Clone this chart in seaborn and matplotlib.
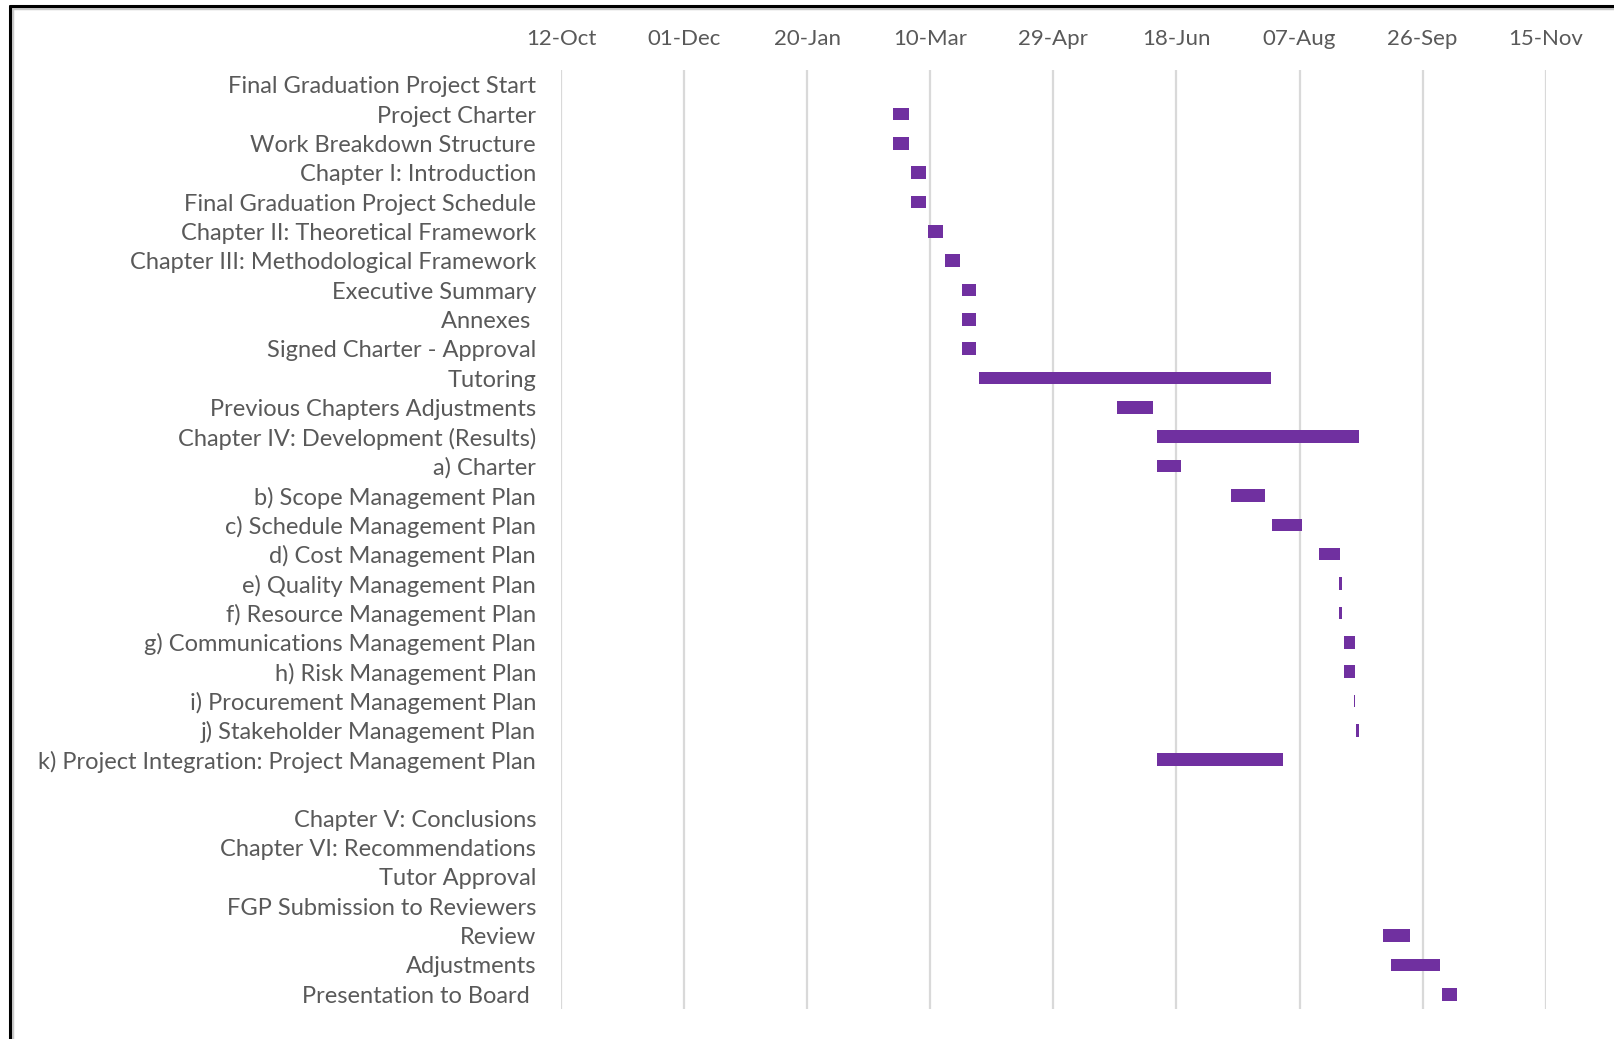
import matplotlib
matplotlib.use("Agg")
import matplotlib.pyplot as plt
import matplotlib.dates as mdates
from matplotlib.lines import Line2D
import seaborn as sns
import pandas as pd
import numpy as np

# --- data ------------------------------------------------------------------
tasks = [
    "Final Graduation Project Start",
    "Project Charter",
    "Work Breakdown Structure",
    "Chapter I: Introduction",
    "Final Graduation Project Schedule",
    "Chapter II: Theoretical Framework",
    "Chapter III: Methodological Framework",
    "Executive Summary",
    "Annexes ",
    "Signed Charter - Approval",
    "Tutoring",
    "Previous Chapters Adjustments",
    "Chapter IV: Development (Results)",
    "a) Charter",
    "b) Scope Management Plan",
    "c) Schedule Management Plan",
    "d) Cost Management Plan",
    "e) Quality Management Plan",
    "f) Resource Management Plan",
    "g) Communications Management Plan",
    "h) Risk Management Plan",
    "i) Procurement Management Plan",
    "j) Stakeholder Management Plan",
    "k) Project Integration: Project Management Plan",
    " ",
    "Chapter V: Conclusions",
    "Chapter VI: Recommendations",
    "Tutor Approval",
    "FGP Submission to Reviewers",
    "Review",
    "Adjustments",
    "Presentation to Board ",
]

start_dates = [
    None, "2024-02-24", "2024-02-24", "2024-03-02", "2024-03-02",
    "2024-03-09", "2024-03-16", "2024-03-23", "2024-03-23", "2024-03-23",
    "2024-03-30", "2024-05-25", "2024-06-10", "2024-06-10", "2024-07-10",
    "2024-07-27", "2024-08-15", "2024-08-23", "2024-08-23", "2024-08-25",
    "2024-08-25", "2024-08-29", "2024-08-30", "2024-06-10", None,
    None, None, None, None, "2024-09-10",
    "2024-09-13", "2024-10-04",
]

durations = [
    0, 6.2, 6.2, 6.2, 6.2,
    6.0, 6.0, 5.7, 5.7, 5.7,
    118.3, 14.5, 82, 10, 14,
    12.2, 8.3, 1.2, 1.2, 4.6,
    4.6, 0.7, 1.1, 51.4, 0,
    0, 0, 0, 0, 11,
    20, 6,
]

tick_dates = ["2023-10-12", "2023-12-01", "2024-01-20", "2024-03-10", "2024-04-29",
              "2024-06-18", "2024-08-07", "2024-09-26", "2024-11-15"]

# --- prep ------------------------------------------------------------------
axis_start = mdates.date2num(pd.Timestamp(tick_dates[0]))
axis_end = mdates.date2num(pd.Timestamp(tick_dates[-1]))
left = np.array([mdates.date2num(pd.Timestamp(d)) if d else axis_start for d in start_dates])

df = pd.DataFrame({"task": tasks, "duration": durations})

sns.set_theme(style="white")
plt.rcParams["font.family"] = ["Lato", "DejaVu Sans"]

fig = plt.figure(figsize=(16.14, 10.39), dpi=100)
ax = fig.add_axes([561 / 1614, 30 / 1039, (1545.7 - 561) / 1614, (1009 - 70) / 1039])

sns.barplot(
    data=df, x="duration", y="task", order=tasks, orient="y",
    color="#7030A0", saturation=1, width=0.43, errorbar=None,
    left=left, linewidth=0, ax=ax,
)

ax.set_xlim(axis_start, axis_end)
ax.set_ylim(len(tasks) - 0.5, -0.5)
ax.xaxis.tick_top()
ax.set_xticks([mdates.date2num(pd.Timestamp(d)) for d in tick_dates])
ax.xaxis.set_major_formatter(mdates.DateFormatter("%d-%b"))
ax.grid(axis="x", color="#d9d9d9", linewidth=1.6)
ax.set_axisbelow(True)
for s in ax.spines.values():
    s.set_visible(False)
ax.set_xlabel("")
ax.set_ylabel("")
ax.tick_params(axis="x", length=0, pad=15, labelsize=16, labelcolor="#595959")
ax.tick_params(axis="y", length=0, pad=18, labelsize=17, labelcolor="#595959")

# Excel-like frame on top and left edge of the screenshot
fig.add_artist(Line2D([12 / 1614, 1], [1 - 8 / 1039, 1 - 8 / 1039], color="#c8c8c8", linewidth=2.5))
fig.add_artist(Line2D([12 / 1614, 12 / 1614], [0, 1 - 8 / 1039], color="#c8c8c8", linewidth=2.5))
fig.add_artist(Line2D([10 / 1614, 1], [1 - 6 / 1039, 1 - 6 / 1039], color="black", linewidth=2.2))
fig.add_artist(Line2D([10 / 1614, 10 / 1614], [0, 1 - 6 / 1039], color="black", linewidth=2.2))

fig.savefig("out.png", dpi=100, facecolor="white")
